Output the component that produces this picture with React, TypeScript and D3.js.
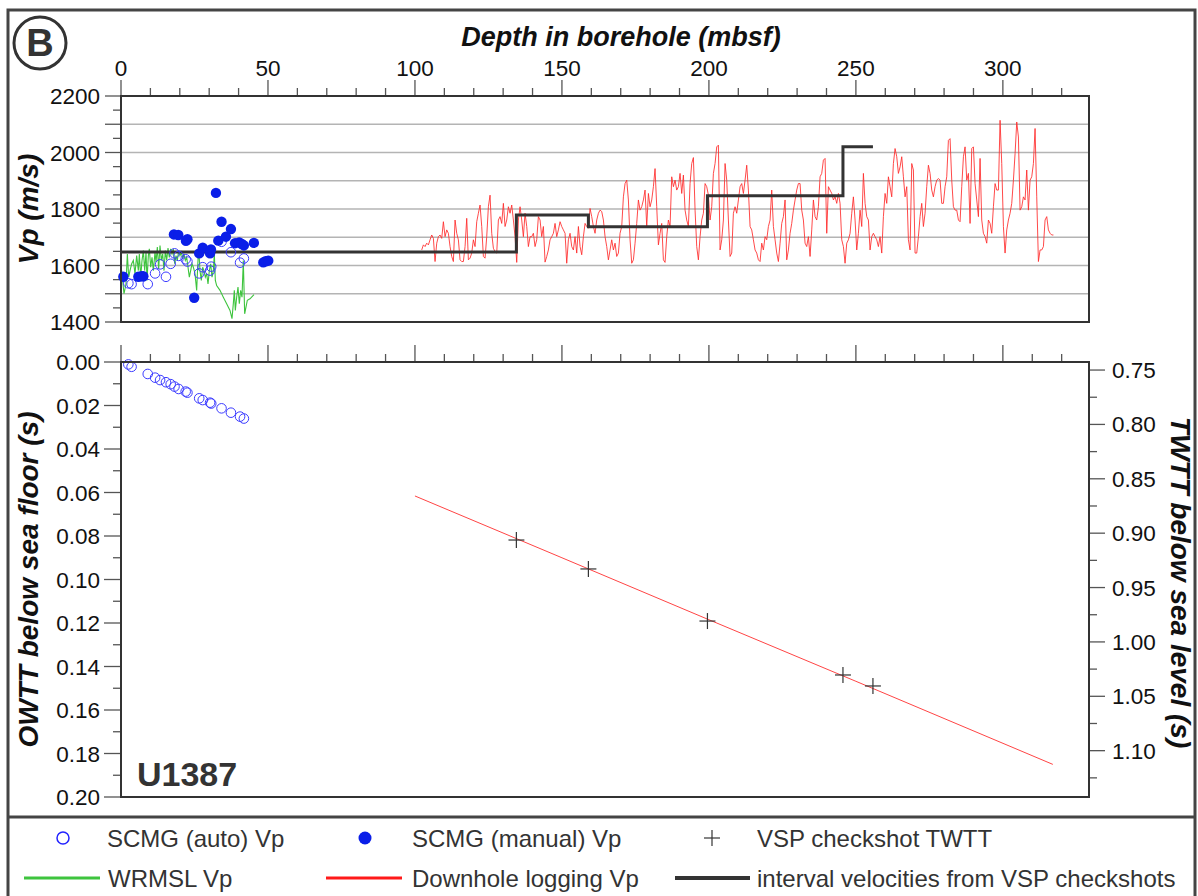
import React from 'react';
import * as d3 from 'd3';

// ---------- DATA ----------
const depthLabels = [0, 50, 100, 150, 200, 250, 300];
const vpLabels = [1400, 1600, 1800, 2000, 2200];
const owttLabels = [0, 0.02, 0.04, 0.06, 0.08, 0.1, 0.12, 0.14, 0.16, 0.18, 0.2];
const twttLabels = [0.75, 0.8, 0.85, 0.9, 0.95, 1.0, 1.05, 1.1];

// SCMG (auto): depth, Vp, OWTT
const scmgAutoDepth = [2.5, 3.6, 9.1, 11.6, 13.3, 15.3, 16.9, 18.2, 19.6, 22.0, 22.6, 26.6, 27.8, 30.3, 30.7, 34.2, 37.4, 40.5, 41.8];
const scmgAutoVp = [1537, 1534, 1534, 1572, 1604, 1560, 1606, 1643, 1634, 1622, 1614, 1572, 1594, 1582, 1596, 1684, 1647, 1610, 1625];
const scmgAutoOwtt = [0.0011, 0.0022, 0.0055, 0.0072, 0.0083, 0.0093, 0.0102, 0.0113, 0.0124, 0.0136, 0.0141, 0.0167, 0.0175, 0.0187, 0.0191, 0.0213, 0.0233, 0.0251, 0.026];

// SCMG (manual)
const scmgManualDepth = [0.8, 5.9, 7.0, 7.6, 18.0, 19.5, 22.1, 22.6, 24.9, 26.6, 27.8, 30.3, 30.6, 32.3, 33.1, 34.2, 35.7, 37.4, 38.8, 40.2, 41.1, 41.8, 45.2, 48.4, 49.2, 50.1];
const scmgManualVp = [1560, 1560, 1562, 1562, 1710, 1708, 1687, 1693, 1486, 1643, 1663, 1643, 1657, 1857, 1688, 1755, 1702, 1729, 1679, 1682, 1676, 1671, 1680, 1611, 1615, 1617];

// WRMSL Vp
const wrmslDepth = [0.23, 1.02, 1.7, 2.16, 2.61, 3.06, 3.63, 4.2, 4.76, 5.33, 5.9, 6.24, 6.69, 7.15, 7.6, 8.05, 8.51, 8.85, 9.3, 9.64, 10.09, 10.55, 11.0, 11.57, 11.91, 12.36, 12.81, 13.27, 13.72, 14.18, 14.63, 15.08, 15.54, 15.99, 16.44, 16.9, 17.35, 17.8, 18.26, 18.71, 19.16, 19.62, 20.07, 20.52, 20.98, 21.43, 21.88, 22.34, 22.79, 23.25, 23.7, 24.15, 24.61, 25.17, 25.74, 26.08, 26.42, 26.87, 27.33, 27.78, 28.23, 28.69, 29.14, 29.6, 30.05, 30.5, 30.96, 31.41, 31.75, 32.09, 32.54, 33.68, 34.81, 35.94, 37.08, 37.76, 38.21, 38.55, 38.89, 39.35, 39.8, 40.25, 40.71, 41.16, 41.61, 42.07, 42.52, 42.97, 43.88, 45.24];
const wrmslVp = [1582, 1500, 1535, 1641, 1559, 1582, 1606, 1618, 1571, 1635, 1582, 1641, 1559, 1618, 1653, 1582, 1647, 1547, 1635, 1659, 1594, 1629, 1582, 1647, 1612, 1665, 1588, 1671, 1618, 1641, 1582, 1653, 1618, 1662, 1629, 1659, 1641, 1659, 1606, 1635, 1618, 1653, 1635, 1647, 1624, 1641, 1618, 1629, 1594, 1559, 1582, 1606, 1594, 1571, 1512, 1594, 1665, 1582, 1547, 1594, 1582, 1559, 1571, 1535, 1582, 1606, 1559, 1582, 1641, 1547, 1529, 1512, 1488, 1465, 1441, 1412, 1465, 1512, 1441, 1488, 1524, 1465, 1512, 1488, 1618, 1429, 1453, 1477, 1482, 1497];

// Downhole logging Vp, sampled from 102.3 mbsf at a regular 0.567 m interval
const logStartDepth = 102.3;
const logStep = 0.567;
const logVp = [
  1655, 1673, 1667, 1679, 1673, 1691, 1708, 1696, 1614, 1679, 1702, 1708, 1696, 1755, 1702, 1726, 1714, 1667, 1632, 1614,
  1761, 1714, 1691, 1620, 1614, 1614, 1667, 1767, 1620, 1626, 1644, 1691, 1667, 1755, 1785, 1814, 1738, 1632, 1626, 1702,
  1808, 1849, 1714, 1661, 1649, 1644, 1761, 1773, 1749, 1820, 1738, 1761, 1808, 1785, 1814, 1761, 1702, 1611, 1761, 1808,
  1761, 1702, 1785, 1738, 1667, 1702, 1702, 1714, 1667, 1691, 1773, 1761, 1702, 1738, 1612, 1632, 1655, 1691, 1702, 1714,
  1749, 1702, 1726, 1755, 1738, 1726, 1714, 1608, 1691, 1714, 1667, 1655, 1702, 1644, 1738, 1667, 1638, 1702, 1749, 1738,
  1732, 1802, 1773, 1738, 1714, 1761, 1785, 1796, 1791, 1761, 1702, 1667, 1620, 1655, 1691, 1655, 1679, 1632, 1644, 1714,
  1738, 1843, 1890, 1902, 1832, 1691, 1608, 1620, 1679, 1749, 1832, 1796, 1808, 1832, 1867, 1738, 1855, 1808, 1832, 1879,
  1943, 1808, 1673, 1714, 1749, 1620, 1611, 1702, 1761, 1738, 1914, 1879, 1902, 1867, 1879, 1926, 1855, 1920, 1796, 1761,
  1738, 1890, 1961, 1982, 1796, 1667, 1620, 1702, 1761, 1785, 1890, 1879, 1849, 1761, 1808, 1926, 1961, 2020, 2026, 1655,
  1691, 1761, 1961, 1902, 1761, 1632, 1644, 1785, 1808, 1785, 1832, 1879, 1890, 1855, 1902, 1955, 1867, 1738, 1726, 1691,
  1655, 1644, 1620, 1614, 1679, 1655, 1702, 1691, 1738, 1761, 1867, 1738, 1691, 1644, 1614, 1679, 1749, 1773, 1832, 1620,
  1655, 1714, 1749, 1796, 1832, 1867, 1890, 1890,
  1796, 1761, 1679, 1667, 1702, 1632, 1726, 1832, 1773, 1761, 1808, 1914, 1926, 1973, 1979, 1714, 1879, 1867, 1855, 1832,
  1843, 1820, 1855, 1820, 1691, 1667, 1608, 1679, 1691, 1714, 1785, 1843, 1761, 1655, 1714, 1796, 1738, 1926, 1820, 1773,
  1761, 1655, 1702, 1714, 1702, 1691, 1667, 1702, 1644, 1773, 1855, 1820, 1914, 1879, 1843, 1961, 2014, 1985, 1926, 1949,
  1985, 1914, 1843, 1879, 1691, 1655, 1961, 1938, 1644, 1644, 1702, 1773, 1820, 1738, 1785, 1879, 1955, 1926, 1867, 1843,
  1879, 1902, 1908, 1902, 1820, 1820, 1879, 1914, 2043, 2049, 1902, 1808, 1796, 1796, 1761, 1755, 1879, 1985, 2020, 1902,
  1926, 1749, 2014, 2020, 1890, 1832, 1773, 1979, 1761, 1714, 1702, 1679, 1761, 1749, 1714, 1808, 1890, 1867, 1867, 2114,
  1961, 1738, 1644, 1726, 1761, 1785, 1820, 1902, 1996, 2108, 2055, 1796, 1808, 1843, 1832, 1938, 1796, 1902, 1914, 1961,
  2085, 1843, 1614, 1655, 1655, 1667, 1761, 1773, 1726, 1714, 1708, 1708
];

// VSP checkshots and interval velocities
const checkshotDepth = [134.5, 159, 199.5, 245.6, 255.8];
const checkshotTwtt = [0.9063, 0.9329, 0.9808, 1.0304, 1.0405];
const intervalTop = [0, 134.5, 159, 199.5, 245.6];
const intervalVp = [1648, 1779, 1737, 1847, 2020];

// Downhole-logging derived OWTT
const logTimeDepth = [100, 150, 200, 250, 317];
const logOwtt = [0.0616, 0.09, 0.1185, 0.1468, 0.185];

// ---------- LAYOUT ----------
const W = 1198, H = 896;
const L = 121, R = 1089;
const T1 = 96, B1 = 322;
const T2 = 362, B2 = 797;
const FONT = '"Liberation Sans", Arial, Helvetica, sans-serif';
const INK = '#333';

const x = d3.scaleLinear().domain([0, 329.3]).range([L, R]);
const yVp = d3.scaleLinear().domain([1400, 2200]).range([B1, T1]);
const yOw = d3.scaleLinear().domain([0, 0.2]).range([T2, B2]);
const yTw = d3.scaleLinear().domain([0.7426, 1.1426]).range([T2, B2]);

export default function App() {
  const depthMinor = d3.range(0, 330, 10);
  const vpTicks = d3.range(1400, 2201, 50);
  const vpGrid = d3.range(1500, 2101, 100);
  const owTicks = d3.range(0, 0.2001, 0.01);
  const twTicks = d3.range(0.75, 1.126, 0.025);

  const logPts: [number, number][] = logVp.map((v, i) => [logStartDepth + i * logStep, v]);
  const wrPts: [number, number][] = wrmslVp.map((v, i) => [wrmslDepth[i], v]);
  const stepPts: [number, number][] = intervalVp.map((v, i) => [intervalTop[i], v]);
  stepPts.push([checkshotDepth[checkshotDepth.length - 1], intervalVp[intervalVp.length - 1]]);
  const owPts: [number, number][] = logOwtt.map((v, i) => [logTimeDepth[i], v]);

  const lineVp = d3.line<[number, number]>().x(d => x(d[0])).y(d => yVp(d[1]));
  const stepLine = d3.line<[number, number]>().x(d => x(d[0])).y(d => yVp(d[1])).curve(d3.curveStepAfter);
  const lineOw = d3.line<[number, number]>().x(d => x(d[0])).y(d => yOw(d[1]));

  const tickText = { fontFamily: FONT, fontSize: 22.5, fill: '#111' } as const;
  const titleText = { fontFamily: FONT, fontSize: 28, fontWeight: 700, fontStyle: 'italic', fill: '#111' } as const;
  const legText = { fontFamily: FONT, fontSize: 24, fill: INK } as const;

  return (
    <svg width={W} height={H} style={{ position: 'absolute', left: 0, top: 0, background: '#fff' }}>
      <rect x={0} y={0} width={W} height={H} fill="#fff" />
      {/* outer frame */}
      <rect x={8} y={10} width={1187} height={H + 20} fill="none" stroke="#444" strokeWidth={3} />
      <line x1={8} x2={1195} y1={817} y2={817} stroke="#444" strokeWidth={3} />

      {/* circled B */}
      <circle cx={40} cy={43} r={26} fill="none" stroke={INK} strokeWidth={3} />
      <text x={40} y={56} textAnchor="middle" style={{ fontFamily: FONT, fontSize: 38, fontWeight: 700, fill: INK }}>B</text>

      {/* title */}
      <text x={621} y={46} textAnchor="middle" style={{ ...titleText, fontSize: 27 }}>Depth in borehole (mbsf)</text>

      {/* top depth labels & ticks */}
      {depthLabels.map(d => (
        <text key={'dl' + d} x={x(d)} y={76} textAnchor="middle" style={tickText}>{d}</text>
      ))}
      {depthMinor.map(d => (
        <g key={'dt' + d}>
          <line x1={x(d)} x2={x(d)} y1={T1} y2={d % 50 === 0 ? T1 - 16 : T1 - 8} stroke="#555" strokeWidth={1.3} />
          <line x1={x(d)} x2={x(d)} y1={T2} y2={d % 50 === 0 ? T2 - 17 : T2 - 8} stroke="#555" strokeWidth={1.3} />
        </g>
      ))}

      {/* ===== top panel ===== */}
      {vpGrid.map(v => (
        <line key={'g' + v} x1={L} x2={R} y1={yVp(v)} y2={yVp(v)} stroke="#b4b4b4" strokeWidth={1.5} />
      ))}
      {vpTicks.map(v => (
        <line key={'vt' + v} x1={L} x2={v % 100 === 0 ? L - 16 : L - 8} y1={yVp(v)} y2={yVp(v)} stroke="#555" strokeWidth={1.3} />
      ))}
      {vpLabels.map(v => (
        <text key={'vl' + v} x={100} y={yVp(v) + 8} textAnchor="end" style={tickText}>{v}</text>
      ))}
      <text transform={`translate(38,${(T1 + B1) / 2}) rotate(-90)`} textAnchor="middle" style={titleText}>Vp (m/s)</text>

      <path d={lineVp(wrPts) || ''} fill="none" stroke="#3ec43e" strokeWidth={1.1} />
      <path d={lineVp(logPts) || ''} fill="none" stroke="#ff2a2a" strokeWidth={1} strokeOpacity={0.85} />
      <path d={stepLine(stepPts) || ''} fill="none" stroke={INK} strokeWidth={3} />
      {scmgAutoVp.map((v, i) => (
        <circle key={'ac' + i} cx={x(scmgAutoDepth[i])} cy={yVp(v)} r={4.8} fill="none" stroke="#3b3bff" strokeWidth={1} />
      ))}
      {scmgManualVp.map((v, i) => (
        <circle key={'mc' + i} cx={x(scmgManualDepth[i])} cy={yVp(v)} r={5.2} fill="#0a1ee8" />
      ))}
      <rect x={L} y={T1} width={R - L} height={B1 - T1} fill="none" stroke={INK} strokeWidth={2} />

      {/* ===== lower panel ===== */}
      {owTicks.map((v, i) => (
        <line key={'ot' + i} x1={L} x2={i % 2 === 0 ? L - 17 : L - 8} y1={yOw(v)} y2={yOw(v)} stroke="#555" strokeWidth={1.3} />
      ))}
      {owttLabels.map(v => (
        <text key={'ol' + v} x={100} y={yOw(v) + 8} textAnchor="end" style={tickText}>{v.toFixed(2)}</text>
      ))}
      {twTicks.map((v, i) => (
        <line key={'tt' + i} x1={R} x2={i % 2 === 0 ? R + 16 : R + 8} y1={yTw(v)} y2={yTw(v)} stroke="#555" strokeWidth={1.3} />
      ))}
      {twttLabels.map(v => (
        <text key={'tl' + v} x={1112} y={yTw(v) + 8} textAnchor="start" style={tickText}>{v.toFixed(2)}</text>
      ))}
      <text transform={`translate(38,${(T2 + B2) / 2}) rotate(-90)`} textAnchor="middle" style={titleText}>OWTT below sea floor (s)</text>
      <text transform={`translate(1171,${(T2 + B2) / 2 + 3}) rotate(90)`} textAnchor="middle" style={titleText}>TWTT below sea level (s)</text>

      <path d={lineOw(owPts) || ''} fill="none" stroke="#ff3030" strokeWidth={1} strokeOpacity={0.9} />
      {scmgAutoOwtt.map((v, i) => (
        <circle key={'oc' + i} cx={x(scmgAutoDepth[i])} cy={yOw(v)} r={4.8} fill="none" stroke="#3b3bff" strokeWidth={1} />
      ))}
      {checkshotTwtt.map((v, i) => (
        <g key={'cs' + i} stroke={INK} strokeWidth={1.2}>
          <line x1={x(checkshotDepth[i]) - 8} x2={x(checkshotDepth[i]) + 8} y1={yTw(v)} y2={yTw(v)} />
          <line x1={x(checkshotDepth[i])} x2={x(checkshotDepth[i])} y1={yTw(v) - 8} y2={yTw(v) + 8} />
        </g>
      ))}
      <text x={137} y={786} style={{ fontFamily: FONT, fontSize: 34, fontWeight: 700, fill: INK }}>U1387</text>
      <rect x={L} y={T2} width={R - L} height={B2 - T2} fill="none" stroke={INK} strokeWidth={2} />

      {/* ===== legend ===== */}
      <circle cx={63} cy={838} r={6} fill="none" stroke="#2222ff" strokeWidth={1.5} />
      <text x={107} y={846.5} style={legText}>SCMG (auto) Vp</text>
      <circle cx={365} cy={838} r={6.5} fill="#0a1ee8" />
      <text x={412} y={846.5} style={legText}>SCMG (manual) Vp</text>
      <g stroke={INK} strokeWidth={1.2}>
        <line x1={704} x2={720} y1={838} y2={838} />
        <line x1={712} x2={712} y1={830} y2={846} />
      </g>
      <text x={757} y={846.5} style={legText}>VSP checkshot TWTT</text>

      <line x1={24} x2={100} y1={878} y2={878} stroke="#3ec43e" strokeWidth={3} />
      <text x={108} y={886.5} style={legText}>WRMSL Vp</text>
      <line x1={326} x2={402} y1={878} y2={878} stroke="#ff1a1a" strokeWidth={3} />
      <text x={412} y={886.5} style={legText}>Downhole logging Vp</text>
      <line x1={675} x2={750} y1={878} y2={878} stroke={INK} strokeWidth={4} />
      <text x={757} y={886.5} style={legText}>interval velocities from VSP checkshots</text>
    </svg>
  );
}
